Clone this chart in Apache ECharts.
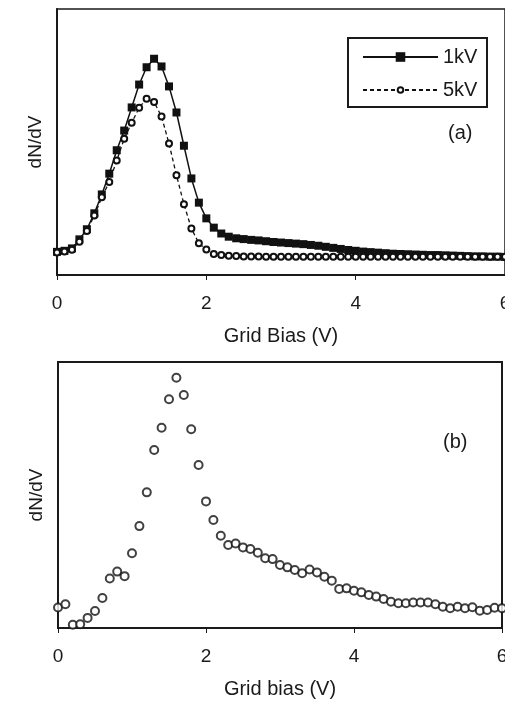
<!DOCTYPE html>
<html>
<head>
<meta charset="utf-8">
<script src="https://cdn.jsdelivr.net/npm/echarts@6/dist/echarts.min.js"></script>
<style>html,body{margin:0;padding:0;background:#fff}#c{width:505px;height:702px}</style>
</head>
<body>
<div id="c"></div>
<script>
// Grid bias values (V), 0.1 V steps
const biasA = [0.0,0.1,0.2,0.3,0.4,0.5,0.6,0.7,0.8,0.9,1.0,1.1,1.2,1.3,1.4,1.5,1.6,1.7,1.8,1.9,2.0,2.1,2.2,2.3,2.4,2.5,2.6,2.7,2.8,2.9,3.0,3.1,3.2,3.3,3.4,3.5,3.6,3.7,3.8,3.9,4.0,4.1,4.2,4.3,4.4,4.5,4.6,4.7,4.8,4.9,5.0,5.1,5.2,5.3,5.4,5.5,5.6,5.7,5.8,5.9,6.0];
// Panel (a): dN/dV (arbitrary units, 0-100 scale)
const dndv1kV = [8.7,9.1,10.0,13.4,17.2,23.2,30.3,38.1,46.9,54.3,63.0,71.6,78.1,81.3,78.4,70.9,61.1,48.6,36.3,27.2,21.3,17.8,15.6,14.4,13.8,13.5,13.2,13.0,12.7,12.4,12.2,12.0,11.8,11.6,11.3,11.0,10.6,10.2,9.8,9.4,9.1,8.8,8.6,8.4,8.2,8.0,7.9,7.8,7.7,7.6,7.5,7.5,7.4,7.3,7.2,7.1,7.0,7.0,6.9,6.9,6.8];
const dndv5kV = [8.5,8.8,9.5,12.5,16.5,22.4,29.2,35.0,43.0,51.2,57.2,62.9,66.3,65.0,59.6,49.4,37.5,26.6,17.5,11.9,9.6,7.9,7.5,7.2,7.1,7.0,7.0,7.0,6.9,6.9,6.9,6.9,6.9,6.9,6.9,6.9,6.9,6.9,6.9,6.9,6.9,6.9,6.9,6.9,6.9,6.9,6.9,6.9,6.9,6.9,6.9,6.9,6.9,6.9,6.9,6.9,6.9,6.9,6.9,6.9,6.9];
// Panel (b)
const biasB = [0.0,0.1,0.2,0.3,0.4,0.5,0.6,0.7,0.8,0.9,1.0,1.1,1.2,1.3,1.4,1.5,1.6,1.7,1.8,1.9,2.0,2.1,2.2,2.3,2.4,2.5,2.6,2.7,2.8,2.9,3.0,3.1,3.2,3.3,3.4,3.5,3.6,3.7,3.8,3.9,4.0,4.1,4.2,4.3,4.4,4.5,4.6,4.7,4.8,4.9,5.0,5.1,5.2,5.3,5.4,5.5,5.6,5.7,5.8,5.9,6.0];
const dndvB = [7.7,8.9,1.2,1.4,3.8,6.4,11.3,18.6,21.2,19.5,28.1,38.3,51.0,66.9,75.3,86.0,94.1,87.6,74.7,61.3,47.6,40.6,34.7,31.2,31.8,30.3,29.7,28.3,26.2,25.9,23.7,22.8,21.8,20.6,22.0,20.9,19.3,17.8,14.7,14.9,14.0,13.4,12.4,11.8,10.9,9.9,9.3,9.3,9.6,9.6,9.6,8.9,8.0,7.4,8.0,7.4,7.8,6.5,6.8,7.6,7.4];
const xTicks = {min: 0, max: 6, interval: 2};
const seriesNames = ['1kV', '5kV'];
const xTitles = ['Grid Bias (V)', 'Grid bias (V)'];
const yTitle = 'dN/dV';
const panelTags = ['(a)', '(b)'];

const FONT = '"Liberation Sans", Arial, sans-serif';
const INK = '#1a1a1a';

function pair(xs, ys) { return xs.map((x, i) => [x, ys[i]]); }

function xAxisCfg(gi, name) {
  return {
    type: 'value', gridIndex: gi, min: xTicks.min, max: xTicks.max, interval: xTicks.interval,
    name: name, nameLocation: 'middle', nameGap: 51,
    nameTextStyle: {fontFamily: FONT, fontSize: 20, color: INK},
    axisLine: {lineStyle: {color: INK, width: 2}},
    axisTick: {show: true, length: 5, lineStyle: {color: INK, width: 1}},
    axisLabel: {fontFamily: FONT, fontSize: 19, color: INK, margin: 19},
    splitLine: {show: false}
  };
}
function yAxisCfg(gi) {
  return {
    type: 'value', gridIndex: gi, min: 0, max: 100,
    name: yTitle, nameLocation: 'middle', nameGap: 12, nameRotate: 90,
    nameTextStyle: {fontFamily: FONT, fontSize: 19, color: INK},
    axisLine: {show: true, lineStyle: {color: INK, width: 2}},
    axisTick: {show: false}, axisLabel: {show: false}, splitLine: {show: false}
  };
}

const chart = echarts.init(document.getElementById('c'), null, {renderer: 'canvas'});
chart.setOption({
  animation: false,
  backgroundColor: '#fff',
  grid: [
    {left: 57, top: 9, width: 448, height: 266, show: true, borderColor: INK, borderWidth: 1.5, backgroundColor: 'transparent', containLabel: false, outerBoundsMode: 'none'},
    {left: 58, top: 362, width: 444, height: 266, show: true, borderColor: INK, borderWidth: 2, backgroundColor: 'transparent', containLabel: false, outerBoundsMode: 'none'}
  ],
  xAxis: [xAxisCfg(0, xTitles[0]), xAxisCfg(1, xTitles[1])],
  yAxis: [yAxisCfg(0), yAxisCfg(1)],
  legend: [
    {data: [seriesNames[0]], orient: 'vertical', left: 362, top: 47, padding: 0,
     itemWidth: 75, itemHeight: 12, textStyle: {fontFamily: FONT, fontSize: 20, color: INK, lineHeight: 20}},
    {data: [seriesNames[1]], orient: 'vertical', left: 362, top: 80, padding: 0,
     itemWidth: 75, itemHeight: 7, textStyle: {fontFamily: FONT, fontSize: 20, color: INK, lineHeight: 20}}
  ],
  graphic: [
    {type: 'rect', shape: {x: 348, y: 38, width: 139, height: 69}, style: {fill: 'none', stroke: INK, lineWidth: 2}, z: 100},
    {type: 'text', left: 448, top: 123, style: {text: panelTags[0], font: '20px ' + FONT, fill: INK}},
    {type: 'text', left: 443, top: 432, style: {text: panelTags[1], font: '20px ' + FONT, fill: INK}}
  ],
  series: [
    {name: seriesNames[0], type: 'line', xAxisIndex: 0, yAxisIndex: 0, data: pair(biasA, dndv1kV),
     symbol: 'rect', symbolSize: 8, showAllSymbol: true,
     itemStyle: {color: '#111'}, lineStyle: {color: '#111', width: 1.5}, z: 2},
    {name: seriesNames[1], type: 'line', xAxisIndex: 0, yAxisIndex: 0, data: pair(biasA, dndv5kV),
     symbol: 'emptyCircle', symbolSize: 6, showAllSymbol: true,
     itemStyle: {color: '#111', borderWidth: 1.4}, lineStyle: {color: '#111', width: 1.3, type: [4, 3]}, z: 3},
    {name: 'b', type: 'scatter', xAxisIndex: 1, yAxisIndex: 1, data: pair(biasB, dndvB),
     symbol: 'emptyCircle', symbolSize: 8,
     itemStyle: {color: '#111', borderWidth: 2}}
  ]
});
</script>
</body>
</html>
